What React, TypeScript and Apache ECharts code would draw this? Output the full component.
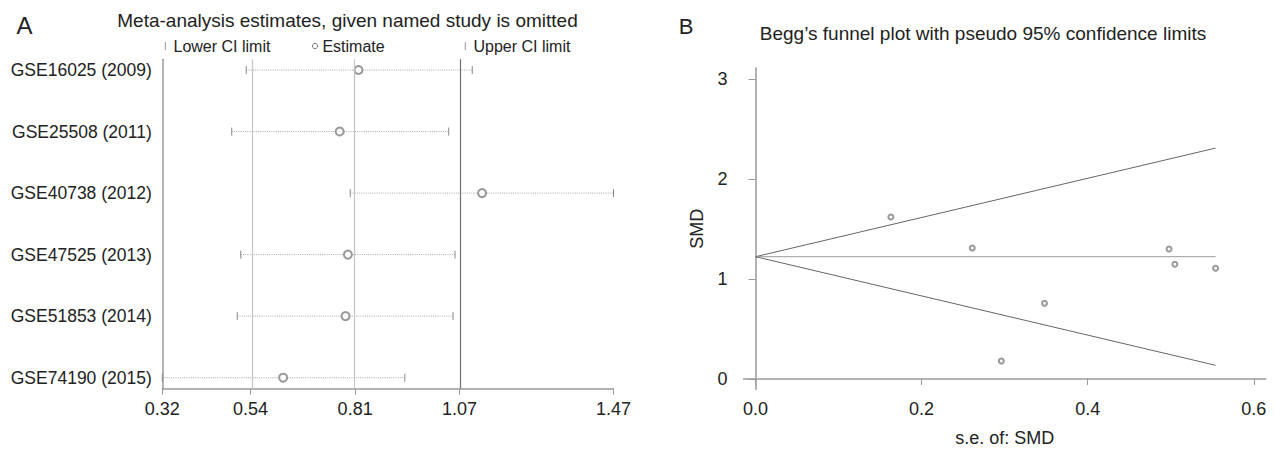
import React, { useEffect, useRef } from "react";
import * as echarts from "echarts";

// ---------- Panel A: leave-one-out sensitivity analysis ----------
const studies = [
  "GSE16025 (2009)",
  "GSE25508 (2011)",
  "GSE40738 (2012)",
  "GSE47525 (2013)",
  "GSE51853 (2014)",
  "GSE74190 (2015)",
];
const lowerCI = [0.534, 0.497, 0.799, 0.52, 0.511, 0.32];
const estimates = [0.82, 0.772, 1.135, 0.793, 0.787, 0.628];
const upperCI = [1.11, 1.05, 1.47, 1.066, 1.061, 0.938];
const forestTickValues = [0.32, 0.545, 0.8115, 1.0777, 1.47];
const forestTickLabels = ["0.32", "0.54", "0.81", "1.07", "1.47"];
const refLineValues = [0.545, 0.8115, 1.0777];

// ---------- Panel B: Begg's funnel plot ----------
const seSMD = [0.163, 0.261, 0.498, 0.505, 0.554, 0.348, 0.296];
const smdValues = [1.62, 1.31, 1.3, 1.147, 1.107, 0.757, 0.18];
const funnelUpper = [
  [0, 1.223],
  [0.554, 2.309],
];
const funnelCenter = [
  [0, 1.223],
  [0.554, 1.223],
];
const funnelLower = [
  [0, 1.223],
  [0.554, 0.137],
];
const funnelXTicks = [0, 0.2, 0.4, 0.6];
const funnelYTicks = [0, 1, 2, 3];

const FONT = "'Liberation Sans', Arial, Helvetica, sans-serif";
const TXT = "#222";
const AX = "#9a9a9a";

export default function App() {
  const ref = useRef<HTMLDivElement>(null);

  useEffect(() => {
    const chart = echarts.init(ref.current!, null, { renderer: "svg" });

    const option: any = {
      animation: false,
      backgroundColor: "#fff",
      textStyle: { fontFamily: FONT },
      grid: [
        { left: 162.3, top: 59.3, width: 451.2, height: 329.4, outerBoundsMode: "none" },
        { left: 743.5, top: 68, width: 522.3, height: 321.3, outerBoundsMode: "none" },
      ],
      xAxis: [
        {
          gridIndex: 0,
          type: "value",
          min: 0.32,
          max: 1.47,
          splitLine: { show: false },
          axisLine: { show: true, lineStyle: { color: AX, width: 1.5 } },
          axisTick: {
            show: true,
            customValues: forestTickValues,
            length: 6,
            lineStyle: { color: AX },
          },
          axisLabel: {
            customValues: forestTickValues,
            formatter: (v: number) => {
              const i = forestTickValues.findIndex((t) => Math.abs(t - v) < 1e-6);
              return i >= 0 ? forestTickLabels[i] : "";
            },
            fontSize: 18,
            color: TXT,
            margin: 11,
            fontFamily: FONT,
          },
        },
        {
          gridIndex: 1,
          type: "value",
          min: -0.0145,
          max: 0.6145,
          splitLine: { show: false },
          axisLine: { show: true, lineStyle: { color: AX, width: 1.5 } },
          axisTick: {
            show: true,
            customValues: funnelXTicks,
            length: 6,
            lineStyle: { color: AX },
          },
          axisLabel: {
            customValues: funnelXTicks,
            formatter: (v: number) => v.toFixed(1),
            fontSize: 18,
            color: TXT,
            margin: 11,
            fontFamily: FONT,
          },
          name: "s.e. of: SMD",
          nameLocation: "middle",
          nameGap: 40,
          nameTextStyle: { fontSize: 18, color: TXT, fontFamily: FONT },
        },
      ],
      yAxis: [
        {
          gridIndex: 0,
          type: "value",
          inverse: true,
          min: 0.826,
          max: 6.179,
          splitLine: { show: false },
          axisLine: { show: true, lineStyle: { color: AX, width: 1.5 } },
          axisTick: { show: false },
          axisLabel: {
            customValues: studies.map((_, i) => i + 1),
            formatter: (v: number) => studies[Math.round(v) - 1] ?? "",
            fontSize: 17.5,
            color: TXT,
            margin: 10.5,
            fontFamily: FONT,
          },
        },
        {
          gridIndex: 1,
          type: "value",
          min: -0.103,
          max: 3.11,
          splitLine: { show: false },
          axisLine: { show: true, lineStyle: { color: AX, width: 1.5 } },
          axisTick: {
            show: true,
            customValues: funnelYTicks,
            length: 7,
            lineStyle: { color: AX },
          },
          axisLabel: {
            customValues: funnelYTicks,
            formatter: (v: number) => String(v),
            fontSize: 18,
            color: TXT,
            margin: 16,
            fontFamily: FONT,
          },
          name: "SMD",
          nameLocation: "middle",
          nameRotate: 90,
          nameGap: 38,
          nameTextStyle: { fontSize: 18, color: TXT, fontFamily: FONT },
        },
      ],
      series: [
        {
          type: "scatter",
          xAxisIndex: 0,
          yAxisIndex: 0,
          data: [],
          z: 1,
          markLine: {
            silent: true,
            symbol: ["none", "none"],
            label: { show: false },
            data: refLineValues.map((v, i) => ({
              xAxis: v,
              lineStyle: { color: i === 2 ? "#6f6f6f" : "#c4c4c4", width: 1.2, type: "solid" },
            })),
          },
        },
        {
          type: "custom",
          xAxisIndex: 0,
          yAxisIndex: 0,
          z: 2,
          encode: { x: [1, 3], y: 0 },
          data: studies.map((_, i) => [i + 1, lowerCI[i], estimates[i], upperCI[i]]),
          renderItem: (_params: any, api: any) => {
            const row = api.value(0);
            const lo = api.coord([api.value(1), row]);
            const hi = api.coord([api.value(3), row]);
            return {
              type: "group",
              children: [
                {
                  type: "line",
                  shape: { x1: lo[0], y1: lo[1], x2: hi[0], y2: hi[1] },
                  style: { stroke: "#a8a8a8", lineWidth: 1, lineDash: [1, 1.2] },
                },
                {
                  type: "line",
                  shape: { x1: lo[0], y1: lo[1] - 4, x2: lo[0], y2: lo[1] + 4 },
                  style: { stroke: "#888", lineWidth: 1 },
                },
                {
                  type: "line",
                  shape: { x1: hi[0], y1: hi[1] - 4, x2: hi[0], y2: hi[1] + 4 },
                  style: { stroke: "#888", lineWidth: 1 },
                },
              ],
            };
          },
        },
        {
          type: "scatter",
          xAxisIndex: 0,
          yAxisIndex: 0,
          z: 3,
          symbol: "emptyCircle",
          symbolSize: 8,
          itemStyle: { color: "#808080", borderColor: "#808080", borderWidth: 1 },
          data: estimates.map((e, i) => [e, i + 1]),
        },
        {
          type: "line",
          xAxisIndex: 1,
          yAxisIndex: 1,
          symbol: "none",
          lineStyle: { color: "#666", width: 1 },
          data: funnelUpper,
        },
        {
          type: "line",
          xAxisIndex: 1,
          yAxisIndex: 1,
          symbol: "none",
          lineStyle: { color: "#9a9a9a", width: 1 },
          data: funnelCenter,
        },
        {
          type: "line",
          xAxisIndex: 1,
          yAxisIndex: 1,
          symbol: "none",
          lineStyle: { color: "#666", width: 1 },
          data: funnelLower,
        },
        {
          type: "scatter",
          xAxisIndex: 1,
          yAxisIndex: 1,
          symbol: "emptyCircle",
          symbolSize: 5,
          itemStyle: { color: "#808080", borderColor: "#808080", borderWidth: 1 },
          data: seSMD.map((s, i) => [s, smdValues[i]]),
        },
      ],
      graphic: [
        {
          type: "text",
          x: 24.5,
          y: 25,
          style: { text: "A", font: `24px ${FONT}`, fill: TXT, align: "center", verticalAlign: "middle" },
        },
        {
          type: "text",
          x: 347.5,
          y: 20,
          style: {
            text: "Meta-analysis estimates, given named study is omitted",
            font: `19px ${FONT}`,
            fill: TXT,
            align: "center",
            verticalAlign: "middle",
          },
        },
        { type: "line", shape: { x1: 165.3, y1: 42, x2: 165.3, y2: 50 }, style: { stroke: "#999", lineWidth: 1 } },
        {
          type: "text",
          x: 173.5,
          y: 46,
          style: { text: "Lower CI limit", font: `16px ${FONT}`, fill: TXT, align: "left", verticalAlign: "middle" },
        },
        { type: "circle", shape: { cx: 315, cy: 46, r: 2.6 }, style: { fill: "#fff", stroke: "#777", lineWidth: 1 } },
        {
          type: "text",
          x: 322.4,
          y: 46,
          style: { text: "Estimate", font: `16px ${FONT}`, fill: TXT, align: "left", verticalAlign: "middle" },
        },
        { type: "line", shape: { x1: 465.3, y1: 42, x2: 465.3, y2: 50 }, style: { stroke: "#999", lineWidth: 1 } },
        {
          type: "text",
          x: 473.5,
          y: 46,
          style: { text: "Upper CI limit", font: `16px ${FONT}`, fill: TXT, align: "left", verticalAlign: "middle" },
        },
        {
          type: "text",
          x: 686,
          y: 26,
          style: { text: "B", font: `22px ${FONT}`, fill: TXT, align: "center", verticalAlign: "middle" },
        },
        {
          type: "text",
          x: 983,
          y: 33,
          style: {
            text: "Begg’s funnel plot with pseudo 95% confidence limits",
            font: `19px ${FONT}`,
            fill: TXT,
            align: "center",
            verticalAlign: "middle",
          },
        },
      ],
    };

    chart.setOption(option);
    return () => chart.dispose();
  }, []);

  return (
    <div
      ref={ref}
      style={{ position: "fixed", left: 0, top: 0, width: 1275, height: 449, background: "#fff" }}
    />
  );
}
